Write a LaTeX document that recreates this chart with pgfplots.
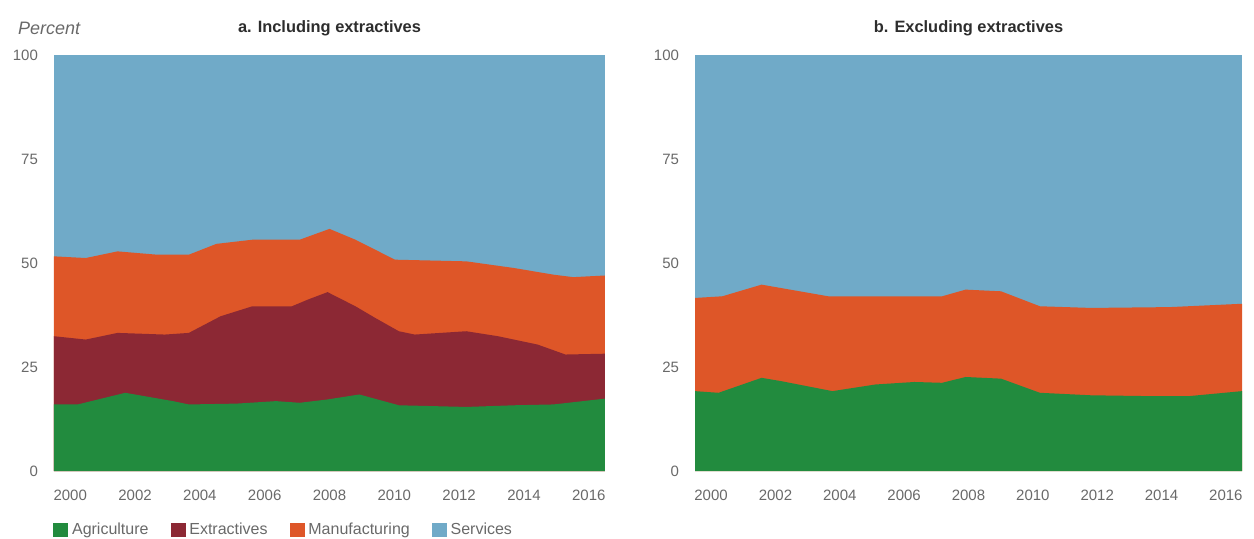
\documentclass[border=0pt]{standalone}
\usepackage{fontspec}
\setmainfont{Liberation Sans}
\usepackage{pgfplots}
\pgfplotsset{compat=1.18}
\definecolor{cAgr}{RGB}{34,139,62}
\definecolor{cExt}{RGB}{140,40,52}
\definecolor{cMan}{RGB}{222,86,40}
\definecolor{cSer}{RGB}{112,170,200}
\definecolor{tickgray}{RGB}{105,105,105}
\definecolor{titlegray}{RGB}{45,45,45}
\tikzset{ttl/.style={font=\bfseries\fontsize{8.2}{10}\selectfont, text=titlegray, anchor=center}}
\begin{document}
\begin{tikzpicture}
\pgfplotsset{
  base/.style={
    scale only axis, height=208pt, clip=false,
    xmin=1999.5, xmax=2016.5, ymin=0, ymax=100,
    xtick={2000,2002,...,2016}, ytick={0,25,50,75,100},
    axis line style={draw=none}, major tick length=0pt,
    tick label style={font=\fontsize{7.5}{9}\selectfont, text=tickgray},
    xticklabel style={yshift=-6pt},
    yticklabel style={xshift=-4.5pt},
    /pgf/number format/assume math mode=true,
    /pgf/number format/1000 sep={},
  },
}
% ---------- Panel a ----------
\begin{axis}[base, width=275.5pt, at={(0pt,0pt)},
  legend columns=4,
  legend style={draw=none, fill=none, inner sep=0pt, at={(-0.002,-0.142)}, anchor=west,
    font=\fontsize{8}{9.5}\selectfont, text=tickgray,
    /tikz/every even column/.append style={column sep=9pt}},
  legend image code/.code={\fill[#1] (0pt,-3.2pt) rectangle (7pt,3.2pt);},
]
\addlegendimage{cAgr}\addlegendentry{Agriculture}
\addlegendimage{cExt}\addlegendentry{Extractives}
\addlegendimage{cMan}\addlegendentry{Manufacturing}
\addlegendimage{cSer}\addlegendentry{Services}
% Services (top of stack = 100)
\addplot[fill=cSer, draw=none, forget plot] coordinates {(1999.5,100) (2016.5,100)} \closedcycle;
% Manufacturing (cumulative top)
\addplot[fill=cMan, draw=none, forget plot] coordinates {
 (1999.5,51.6) (2000.48,51.2) (2001.46,52.8) (2002.68,52.0) (2003.66,52.0)
 (2004.51,54.6) (2005.62,55.6) (2007.08,55.6) (2008.0,58.2) (2008.8,55.6)
 (2010.02,50.8) (2012.22,50.4) (2013.69,48.8) (2014.91,47.2) (2015.52,46.6) (2016.5,47.0)} \closedcycle;
% Extractives (cumulative top)
\addplot[fill=cExt, draw=none, forget plot] coordinates {
 (1999.5,32.4) (2000.48,31.6) (2001.46,33.2) (2002.92,32.8) (2003.66,33.2)
 (2004.64,37.2) (2005.62,39.6) (2006.84,39.6) (2007.33,41.2) (2007.94,43.0)
 (2008.8,39.6) (2009.41,36.8) (2010.14,33.6) (2010.63,32.8) (2012.22,33.6)
 (2013.2,32.4) (2014.42,30.4) (2015.28,28.0) (2016.5,28.2)} \closedcycle;
% Agriculture
\addplot[fill=cAgr, draw=none, forget plot] coordinates {
 (1999.5,16.0) (2000.23,16.0) (2001.7,18.8) (2003.17,16.8) (2003.66,16.0)
 (2005.13,16.2) (2006.35,16.8) (2007.08,16.4) (2007.94,17.2) (2008.92,18.4)
 (2010.14,15.8) (2012.22,15.4) (2013.69,15.8) (2014.91,16.0) (2016.5,17.4)} \closedcycle;
\node[ttl] at (axis description cs:0.5,1) [yshift=13.5pt] {a. Including extractives};
\node[anchor=west, font=\itshape\fontsize{9}{10}\selectfont, text=tickgray]
  at (axis description cs:0,1) [xshift=-21.5pt, yshift=13.5pt] {Percent};
\end{axis}
% ---------- Panel b ----------
\begin{axis}[base, width=273.5pt, at={(320.5pt,0pt)}]
\addplot[fill=cSer, draw=none] coordinates {(1999.5,100) (2016.5,100)} \closedcycle;
\addplot[fill=cMan, draw=none] coordinates {
 (1999.5,41.6) (2000.35,42.0) (2001.57,44.8) (2003.64,42.0) (2005.11,42.0)
 (2007.18,42.0) (2007.91,43.6) (2009.01,43.2) (2010.22,39.6) (2011.81,39.2)
 (2014.25,39.4) (2016.5,40.2)} \closedcycle;
\addplot[fill=cAgr, draw=none] coordinates {
 (1999.5,19.2) (2000.23,18.8) (2001.57,22.4) (2002.18,21.6) (2003.77,19.2)
 (2005.11,20.8) (2006.32,21.4) (2007.18,21.2) (2007.91,22.6) (2009.01,22.2)
 (2010.22,18.8) (2011.81,18.2) (2013.64,18.0) (2014.85,18.0) (2016.5,19.2)} \closedcycle;
\node[ttl] at (axis description cs:0.5,1) [yshift=13.5pt] {b. Excluding extractives};
\end{axis}
\pgfresetboundingbox
\path (-27pt,-33.5pt) rectangle (600pt,235.5pt);
\end{tikzpicture}
\end{document}
